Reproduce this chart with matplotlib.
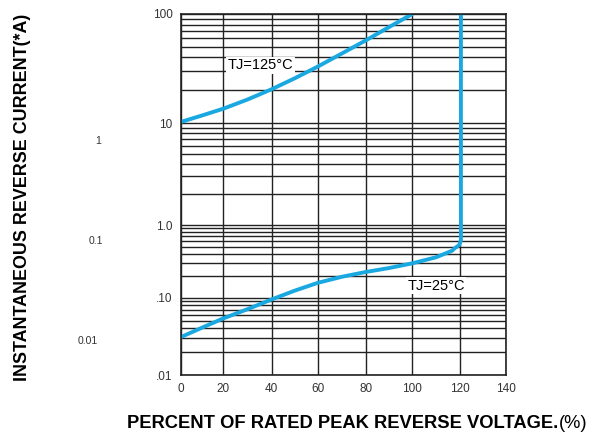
import numpy as np
import matplotlib
matplotlib.use("Agg")
import matplotlib.pyplot as plt

plt.rcParams["font.family"] = ["Liberation Sans", "DejaVu Sans"]

# TJ=125C curve
v125 = [0, 10, 20, 30, 40, 50, 60, 70, 80, 90, 100]
i125 = [10.3, 11.8, 13.6, 16.5, 20.5, 25.8, 33.0, 43.5, 57.5, 76.0, 100]

# TJ=25C curve (knee at ~120%, then vertical)
v25 = [0, 10, 20, 30, 40, 50, 60, 70, 80, 90, 100, 110, 116.7, 117.8, 119.7, 120.4, 120.4]
i25 = [0.031, 0.041, 0.054, 0.071, 0.095, 0.125, 0.160, 0.194, 0.226, 0.256, 0.297,
       0.36, 0.443, 0.48, 0.53, 0.62, 100]

x_ticks = [0, 20, 40, 60, 80, 100, 120, 140]
y_ticks = [0.01, 0.1, 1, 10, 100]
y_ticklabels = [".01", ".10", "1.0", "10", "100"]
side_labels = ["1", "0.1", "0.01"]

# the printed chart is hand drawn: decades / x steps are not equally spaced
dec_log = [-2, -1, 0, 1, 2]
dec_pos = [0, 77.3, 150, 251.7, 361]
x_pos = [0, 42.3, 90.7, 136.7, 185, 231.3, 279, 325]


def yfwd(y):
    y = np.clip(np.asarray(y, dtype=float), 1e-12, None)
    return np.interp(np.log10(y), dec_log, dec_pos)


def yinv(p):
    return 10 ** np.interp(np.asarray(p, dtype=float), dec_pos, dec_log)


def xfwd(x):
    return np.interp(np.asarray(x, dtype=float), x_ticks, x_pos,
                     left=-1e9, right=1e9)


def xinv(p):
    return np.interp(np.asarray(p, dtype=float), x_pos, x_ticks)


W, H = 592, 438
fig = plt.figure(figsize=(W / 100, H / 100), dpi=100)
ax = fig.add_axes([181 / W, (H - 375) / H, (506 - 181) / W, (375 - 14) / H])
ax.set_yscale("function", functions=(yfwd, yinv))
ax.set_xscale("function", functions=(xfwd, xinv))
ax.set_xlim(0, 140)
ax.set_ylim(0.01, 100)

minor = [k * 10.0 ** e for e in range(-2, 2) for k in range(2, 10)]
ax.set_yticks(y_ticks)
ax.set_yticklabels(y_ticklabels)
ax.set_yticks(minor, minor=True)
ax.yaxis.set_minor_formatter(matplotlib.ticker.NullFormatter())
ax.set_xticks(x_ticks)
ax.set_xticklabels([str(v) for v in x_ticks])
ax.xaxis.set_minor_locator(matplotlib.ticker.NullLocator())
ax.tick_params(which="both", length=0, labelsize=8.5, colors="#333333", pad=6)
ax.grid(True, which="both", color="#222222", linewidth=1.0)
for s in ax.spines.values():
    s.set_color("#222222")
    s.set_linewidth(1.2)

blue = "#19a8e0"
ax.plot(v125, i125, color=blue, linewidth=2.8, solid_capstyle="butt")
ax.plot(v25, i25, color=blue, linewidth=2.8, solid_joinstyle="round")

box = dict(facecolor="white", edgecolor="none", pad=1.0)
ax.text(35.4, 34, "TJ=125\u00b0C", fontsize=10.5, ha="center", va="center", bbox=box)
ax.text(110, 0.146, "TJ=25\u00b0C", fontsize=10.5, ha="center", va="center", bbox=box)

fig.text(23 / W, 1 - 197 / H, "INSTANTANEOUS REVERSE CURRENT(*A)", rotation=90,
         fontsize=12.9, fontweight="bold", ha="center", va="center")
xl = fig.text(127 / W, 1 - 424 / H, "PERCENT OF RATED PEAK REVERSE VOLTAGE.",
              fontsize=13.2, fontweight="bold", ha="left", va="center")
fig.canvas.draw()
bb = xl.get_window_extent(renderer=fig.canvas.get_renderer())
fig.text(bb.x1 / W + 1 / W, 1 - 424 / H, "(%)", fontsize=13.2, ha="left", va="center")

for lab, yy, xx in zip(side_labels, [141, 241, 341], [98, 96, 88]):
    fig.text(xx / W, 1 - yy / H, lab, fontsize=7.5, color="#333333", ha="center", va="center")

fig.savefig("out.png", dpi=100)
